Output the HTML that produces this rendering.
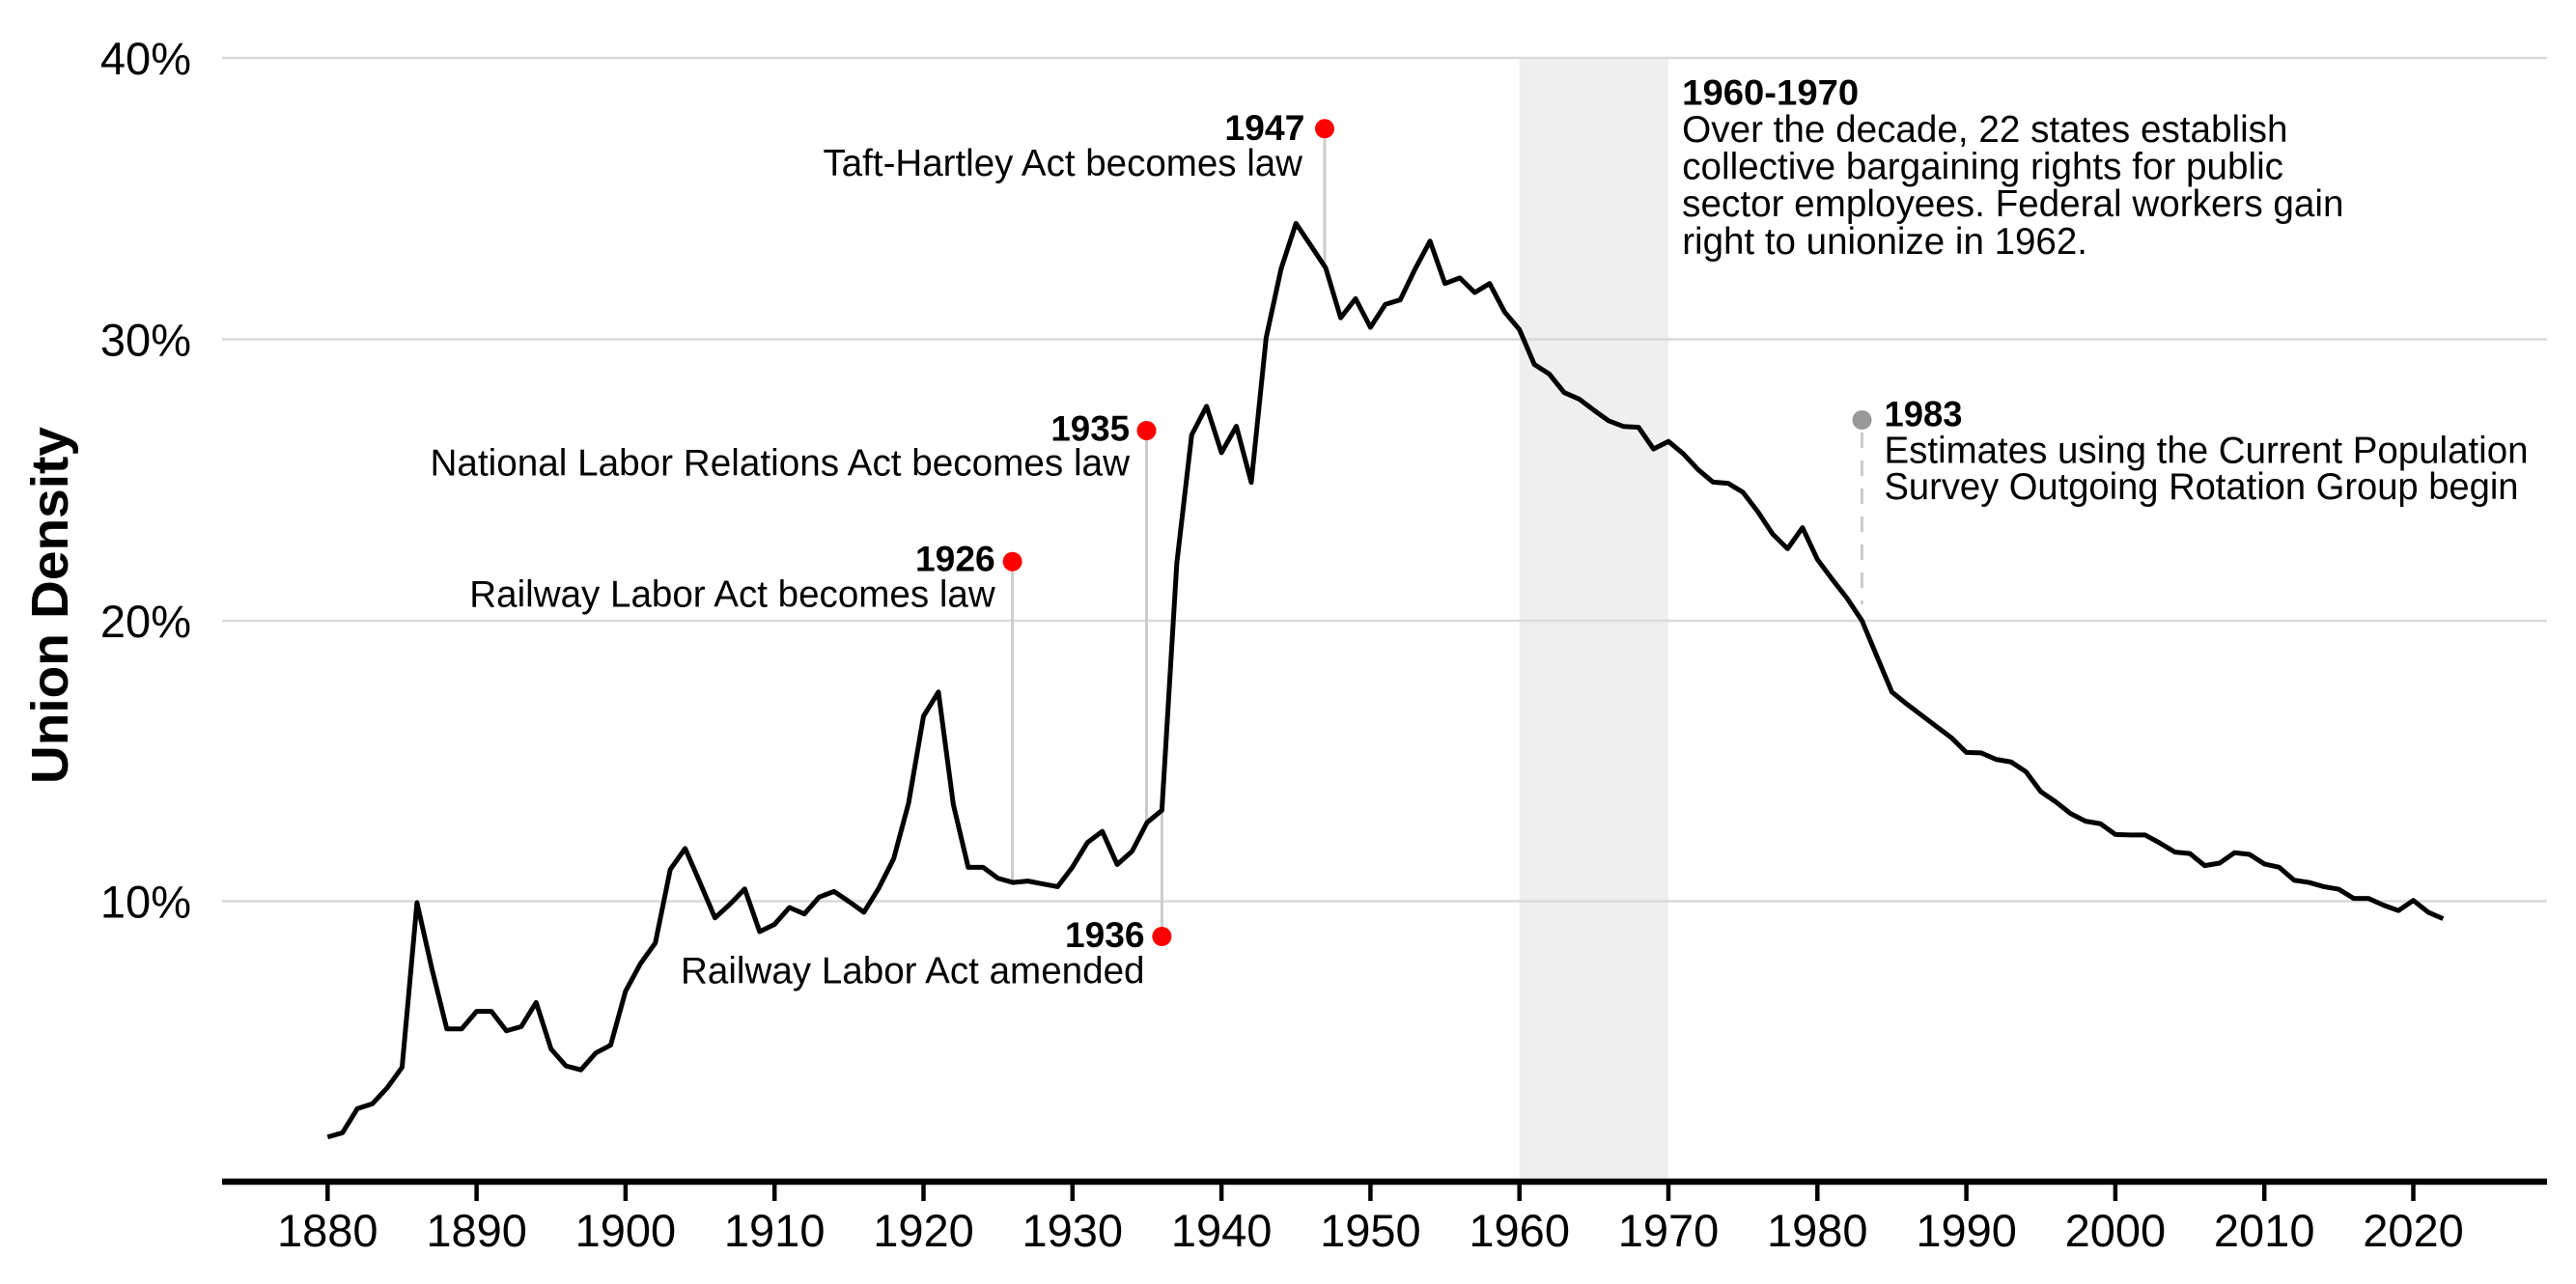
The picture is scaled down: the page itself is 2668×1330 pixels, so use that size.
<!DOCTYPE html>
<html>
<head>
<meta charset="utf-8">
<style>
html,body{margin:0;padding:0;background:#fff;}
svg{display:block;}
</style>
</head>
<body>
<svg width="2668" height="1330" viewBox="0 0 2668 1330" xmlns="http://www.w3.org/2000/svg" font-family="'Liberation Sans', Arial, Helvetica, sans-serif">
<rect x="0" y="0" width="2668" height="1330" fill="#ffffff"/>

<!-- shaded 1960-1970 -->
<rect x="1573.7" y="60" width="154.3" height="1162" fill="#efefef"/>

<!-- gridlines -->
<g stroke="#d9d9d9" stroke-width="2.5">
  <line x1="230" y1="60" x2="2638" y2="60"/>
  <line x1="230" y1="351.5" x2="2638" y2="351.5"/>
  <line x1="230" y1="643" x2="2638" y2="643"/>
  <line x1="230" y1="933.5" x2="2638" y2="933.5"/>
</g>

<!-- annotation connector lines -->
<g stroke="#cccccc" stroke-width="3">
  <line x1="1372" y1="133" x2="1372" y2="278"/>
  <line x1="1187.5" y1="446" x2="1187.5" y2="852"/>
  <line x1="1048.6" y1="582" x2="1048.6" y2="914"/>
  <line x1="1203.4" y1="970" x2="1203.4" y2="839"/>
  <line x1="1928.5" y1="448" x2="1928.5" y2="626" stroke-dasharray="16 13"/>
</g>

<!-- data line -->
<g transform="matrix(15.43,0,0,-29.1,339.3,1224)">
<polyline fill="none" stroke="#000" stroke-width="5" stroke-linejoin="round" stroke-linecap="butt" vector-effect="non-scaling-stroke"
points="0,1.59 1,1.74 2,2.60 3,2.77 4,3.34 5,4.07 6,9.93 7,7.58 8,5.44 9,5.44 10,6.06 11,6.06 12,5.37 13,5.52 14,6.38 15,4.72 16,4.12 17,3.98 18,4.58 19,4.86 20,6.78 21,7.76 22,8.50 23,11.11 24,11.86 25,10.64 26,9.39 27,9.87 28,10.42 29,8.90 30,9.16 31,9.76 32,9.53 33,10.13 34,10.33 35,9.97 36,9.59 37,10.45 38,11.50 39,13.48 40,16.57 41,17.43 42,13.43 43,11.19 44,11.19 45,10.8 46,10.65 47,10.7 48,10.6 49,10.5 50,11.2 51,12.07 52,12.47 53,11.29 54,11.76 55,12.78 56,13.22 57,22.0 58,26.58 59,27.60 60,25.95 61,26.89 62,24.89 63,30.04 64,32.49 65,34.11 66,33.32 67,32.52 68,30.75 69,31.43 70,30.41 71,31.23 72,31.39 73,32.49 74,33.48 75,31.97 76,32.17 77,31.65 78,31.97 79,30.96 80,30.33 81,29.09 82,28.75 83,28.09 84,27.86 85,27.46 86,27.08 87,26.88 88,26.85 89,26.08 90,26.35 91,25.91 92,25.34 93,24.90 94,24.86 95,24.54 96,23.85 97,23.05 98,22.53 99,23.28 100,22.15 101,21.44 102,20.76 103,19.96 104,18.69 105,17.43 106,17.0 107,16.6 108,16.2 109,15.8 110,15.28 111,15.26 112,15.03 113,14.94 114,14.59 115,13.88 116,13.52 117,13.10 118,12.83 119,12.74 120,12.36 121,12.34 122,12.34 123,12.05 124,11.73 125,11.68 126,11.25 127,11.34 128,11.71 129,11.65 130,11.31 131,11.19 132,10.73 133,10.65 134,10.50 135,10.41 136,10.08 137,10.08 138,9.84 139,9.65 140,10.01 141,9.59 142,9.36"/>
</g>

<!-- dots -->
<circle cx="1372" cy="133.3" r="10" fill="#ff0000"/>
<circle cx="1187.5" cy="446" r="10" fill="#ff0000"/>
<circle cx="1048.6" cy="581.7" r="10" fill="#ff0000"/>
<circle cx="1203.4" cy="970" r="10" fill="#ff0000"/>
<circle cx="1928.5" cy="435" r="10" fill="#999999"/>

<!-- annotation texts -->
<g fill="#000">
  <text x="1268.4" y="145" font-size="37" font-weight="bold" textLength="83" lengthAdjust="spacingAndGlyphs">1947</text>
  <text x="852.5" y="182" font-size="38.5" textLength="496.5" lengthAdjust="spacingAndGlyphs">Taft-Hartley Act becomes law</text>

  <text x="1088.4" y="456.7" font-size="37" font-weight="bold" textLength="81.6" lengthAdjust="spacingAndGlyphs">1935</text>
  <text x="445.5" y="492.7" font-size="38.5" textLength="724.5" lengthAdjust="spacingAndGlyphs">National Labor Relations Act becomes law</text>

  <text x="948" y="591.7" font-size="37" font-weight="bold" textLength="82.7" lengthAdjust="spacingAndGlyphs">1926</text>
  <text x="486.3" y="628.3" font-size="38.5" textLength="544.4" lengthAdjust="spacingAndGlyphs">Railway Labor Act becomes law</text>

  <text x="1103" y="981" font-size="37" font-weight="bold" textLength="82.5" lengthAdjust="spacingAndGlyphs">1936</text>
  <text x="705" y="1018.3" font-size="38.5" textLength="480.5" lengthAdjust="spacingAndGlyphs">Railway Labor Act amended</text>

  <text x="1742.2" y="108.3" font-size="37" font-weight="bold" textLength="183" lengthAdjust="spacingAndGlyphs">1960-1970</text>
  <text x="1742.2" y="146.8" font-size="38.5" textLength="627.3" lengthAdjust="spacingAndGlyphs">Over the decade, 22 states establish</text>
  <text x="1742.2" y="185.5" font-size="38.5" textLength="622.8" lengthAdjust="spacingAndGlyphs">collective bargaining rights for public</text>
  <text x="1742.2" y="224.2" font-size="38.5" textLength="685.3" lengthAdjust="spacingAndGlyphs">sector employees. Federal workers gain</text>
  <text x="1742.2" y="262.8" font-size="38.5" textLength="419.8" lengthAdjust="spacingAndGlyphs">right to unionize in 1962.</text>

  <text x="1951.5" y="441.7" font-size="37" font-weight="bold" textLength="81" lengthAdjust="spacingAndGlyphs">1983</text>
  <text x="1951.5" y="479.5" font-size="38.5" textLength="667" lengthAdjust="spacingAndGlyphs">Estimates using the Current Population</text>
  <text x="1951.5" y="517" font-size="38.5" textLength="657" lengthAdjust="spacingAndGlyphs">Survey Outgoing Rotation Group begin</text>
</g>

<!-- y tick labels -->
<g fill="#000" font-size="47" text-anchor="end">
  <text x="198" y="77">40%</text>
  <text x="198" y="368.5">30%</text>
  <text x="198" y="660">20%</text>
  <text x="198" y="950.5">10%</text>
</g>

<!-- y axis title -->
<text transform="translate(70,627) rotate(-90)" text-anchor="middle" font-size="54" font-weight="bold" fill="#000" textLength="370" lengthAdjust="spacingAndGlyphs">Union Density</text>

<!-- x axis -->
<line x1="230" y1="1224" x2="2638" y2="1224" stroke="#000" stroke-width="6.5"/>
<g stroke="#000" stroke-width="4.5">
  <line x1="339.3" y1="1224" x2="339.3" y2="1244"/>
  <line x1="493.6" y1="1224" x2="493.6" y2="1244"/>
  <line x1="647.9" y1="1224" x2="647.9" y2="1244"/>
  <line x1="802.2" y1="1224" x2="802.2" y2="1244"/>
  <line x1="956.5" y1="1224" x2="956.5" y2="1244"/>
  <line x1="1110.8" y1="1224" x2="1110.8" y2="1244"/>
  <line x1="1265.1" y1="1224" x2="1265.1" y2="1244"/>
  <line x1="1419.4" y1="1224" x2="1419.4" y2="1244"/>
  <line x1="1573.7" y1="1224" x2="1573.7" y2="1244"/>
  <line x1="1728" y1="1224" x2="1728" y2="1244"/>
  <line x1="1882.3" y1="1224" x2="1882.3" y2="1244"/>
  <line x1="2036.6" y1="1224" x2="2036.6" y2="1244"/>
  <line x1="2190.9" y1="1224" x2="2190.9" y2="1244"/>
  <line x1="2345.2" y1="1224" x2="2345.2" y2="1244"/>
  <line x1="2499.5" y1="1224" x2="2499.5" y2="1244"/>
</g>
<g fill="#000" font-size="47" text-anchor="middle">
  <text x="339.3" y="1291">1880</text>
  <text x="493.6" y="1291">1890</text>
  <text x="647.9" y="1291">1900</text>
  <text x="802.2" y="1291">1910</text>
  <text x="956.5" y="1291">1920</text>
  <text x="1110.8" y="1291">1930</text>
  <text x="1265.1" y="1291">1940</text>
  <text x="1419.4" y="1291">1950</text>
  <text x="1573.7" y="1291">1960</text>
  <text x="1728" y="1291">1970</text>
  <text x="1882.3" y="1291">1980</text>
  <text x="2036.6" y="1291">1990</text>
  <text x="2190.9" y="1291">2000</text>
  <text x="2345.2" y="1291">2010</text>
  <text x="2499.5" y="1291">2020</text>
</g>
</svg>
</body>
</html>
